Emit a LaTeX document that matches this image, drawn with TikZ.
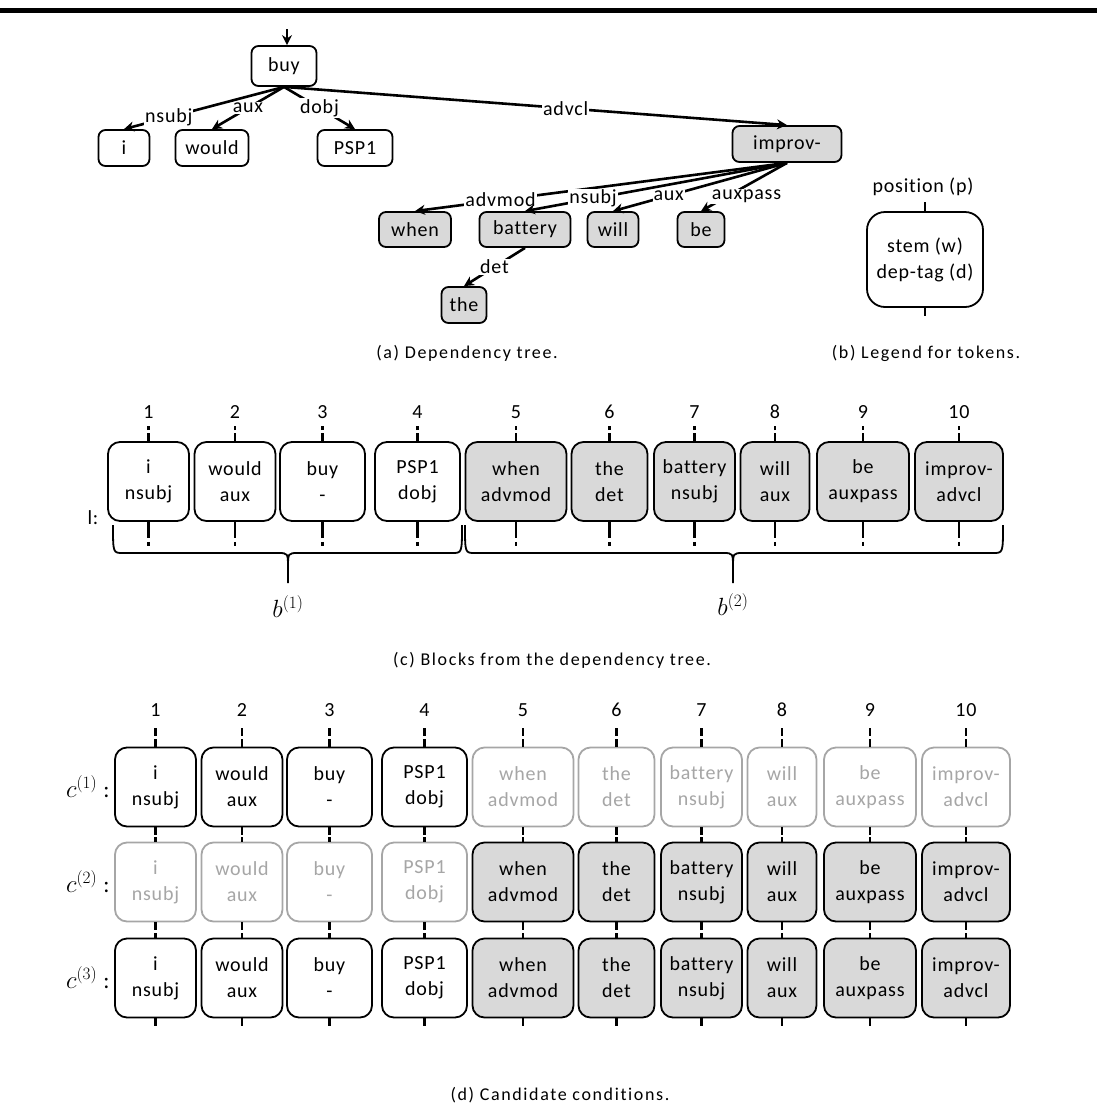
\documentclass[tikz,border=0pt]{standalone}
\usepackage{fontspec}
\setmainfont{Carlito}[LetterSpace=4, Ligatures={NoCommon}]
\usetikzlibrary{arrows.meta}
\definecolor{tokfill}{HTML}{D9D9D9}
\definecolor{faded}{HTML}{A6A6A6}
\newcommand\tokfont{\fontsize{20}{26}\selectfont}
\newcommand\capfont{\fontsize{18}{20}\selectfont\addfontfeatures{LetterSpace=9}}
\newcommand\mathlblfont{\fontsize{23}{26}\selectfont}
\tikzset{
  tok/.style={rectangle, rounded corners=12pt, draw=black, fill=white, line width=1.8pt,
              align=center, inner sep=0pt, font=\tokfont, minimum height=79pt},
  graytok/.style={tok, fill=tokfill},
  fadetok/.style={tok, draw=faded, text=faded},
  word/.style={rectangle, rounded corners=7pt, draw=black, fill=white, line width=1.8pt,
               inner sep=0pt, font=\tokfont, minimum height=36pt},
  grayword/.style={word, fill=tokfill},
  dep/.style={-{Stealth[length=10pt,width=10pt]}, line width=2.6pt},
  deplbl/.style={fill=white, inner sep=1pt, font=\tokfont},
  tick/.style={line width=2.8pt, dash pattern=on 8pt off 3pt},
  numlbl/.style={font=\tokfont},
  capt/.style={font=\capfont}
}
\newcommand\blockbrace[3]{%
  \draw[line width=1.8pt] (#1,-525) .. controls (#1,-553) .. (#1+10,-553) -- (#3-10,-553)
    .. controls (#3,-553) .. (#3,-568) -- (#3,-583)
    (#3,-568) .. controls (#3,-553) .. (#3+10,-553) -- (#2-10,-553)
    .. controls (#2,-553) .. (#2,-525);}
\def\cols{148.5/81/i/nsubj, 235/81/would/aux, 322.5/85/buy/-, 417.5/85/PSP1/dobj,
  516/101/when/advmod, 609.5/76/the/det, 694.5/81/battery/nsubj, 775/69/will/aux,
  863/92/be/auxpass, 959/88/improv-/advcl}

\begin{document}
\begin{tikzpicture}[x=1pt, y=1pt]
  \useasboundingbox (0,0) rectangle (1097,-1117);
  \draw[line width=5pt] (0,-10) -- (1097,-10);

  % (a) dependency tree
  \coordinate (root) at (287,-29);
  \node[word, minimum width=65pt, minimum height=40pt] (buy) at (284,-66) {buy};
  \node[word, minimum width=51pt] (i) at (124,-148) {i};
  \node[word, minimum width=73pt] (would) at (212,-148) {would};
  \node[word, minimum width=75pt] (psp) at (355,-148) {PSP1};
  \node[grayword, minimum width=109pt] (improv) at (787,-144) {improv-};
  \node[grayword, minimum width=72pt, minimum height=35pt] (when) at (415,-229.5) {when};
  \node[grayword, minimum width=91pt, minimum height=35pt] (battery) at (525,-229.5) {battery};
  \node[grayword, minimum width=51pt, minimum height=35pt] (will) at (613,-229.5) {will};
  \node[grayword, minimum width=47pt, minimum height=35pt] (be) at (701,-229.5) {be};
  \node[grayword, minimum width=45pt] (the) at (464,-305) {the};

  \draw[dep] (root) -- (root |- buy.north);
  \draw[dep] (buy.south) -- node[deplbl, pos=0.72] {nsubj} (i.north);
  \draw[dep] (buy.south) -- node[deplbl, pos=0.5] {aux} (would.north);
  \draw[dep] (buy.south) -- node[deplbl, pos=0.5] {dobj} (psp.north);
  \draw[dep] (buy.south) -- node[deplbl, pos=0.56] {advcl} (improv.north);
  \draw[dep] (improv.south) -- node[deplbl, pos=0.77] {advmod} (when.north);
  \draw[dep] (improv.south) -- node[deplbl, pos=0.74] {nsubj} (battery.north);
  \draw[dep] (improv.south) -- node[deplbl, pos=0.68] {aux} (will.north);
  \draw[dep] (improv.south) -- node[deplbl, pos=0.47, yshift=-11pt] {auxpass} (be.north);
  \draw[dep] (battery.south) -- node[deplbl, pos=0.5] {det} (the.north);
  \node[capt] (capa) at (467,-353) {(a) Dependency tree.};

  % (b) legend
  \node[numlbl] (legpos) at (923,-187) {position (p)};
  \node[tok, rounded corners=18pt, minimum width=116pt, minimum height=95pt] (legend)
    at (925,-259.5) {stem (w)\\dep-tag (d)};
  \draw[line width=2.8pt] (legend.north) -- ++(0,9);
  \draw[line width=2.8pt] (legend.south) -- ++(0,-8);
  \node[capt] (capb) at (926,-353) {(b) Legend for tokens.};

  % (c) blocks
  \node[numlbl] (lrow) at (93,-518) {l:};
  \foreach \x/\wid/\stem/\dtag [count=\k] in \cols {
    \ifnum\k<5 \def\sty{tok}\else\def\sty{graytok}\fi
    \node[\sty, minimum width=\wid pt] (blk\k) at (\x,-481.5) {\stem\\\dtag};
    \node[numlbl] (num\k) at (\x,-412) {\k};
    \draw[tick] (blk\k.north) -- ++(0,15);
    \draw[tick, dash pattern=on 16pt off 4pt on 4pt off 4pt] (blk\k.south) -- ++(0,-24);
  }
  \blockbrace{113}{462}{288}
  \blockbrace{465}{1003}{733}
  \node[font=\mathlblfont] (b1) at (288,-607) {$b^{(1)}$};
  \node[font=\mathlblfont] (b2) at (733,-605) {$b^{(2)}$};
  \node[capt] (capc) at (552,-660) {(c) Blocks from the dependency tree.};

  % (d) candidate conditions
  \foreach \r/\y/\sa/\sb in {1/-787/tok/fadetok, 2/-882/fadetok/graytok, 3/-978/tok/graytok} {
    \node[font=\mathlblfont, anchor=east] (clbl\r) at (113,\y) {$c^{(\r)}$ :};
    \foreach \x/\wid/\stem/\dtag [count=\k] in \cols {
      \ifnum\k<5 \def\sty{\sa}\else\def\sty{\sb}\fi
      \node[\sty, minimum width=\wid pt] (cnd\r-\k) at (\x+7,\y) {\stem\\\dtag};
      \draw[tick] (cnd\r-\k.south) -- ++(0,-9);
      \ifnum\r=1
        \draw[tick] (cnd\r-\k.north) -- ++(0,20);
      \else
        \draw[tick] (cnd\r-\k.north) -- ++(0,5);
      \fi
    }
  }
  \foreach \x/\wid/\stem/\dtag [count=\k] in \cols {
    \node[numlbl] (cnum\k) at (\x+7,-710) {\k};
  }
  \node[capt] (capd) at (560,-1095) {(d) Candidate conditions.};
\end{tikzpicture}
\end{document}
